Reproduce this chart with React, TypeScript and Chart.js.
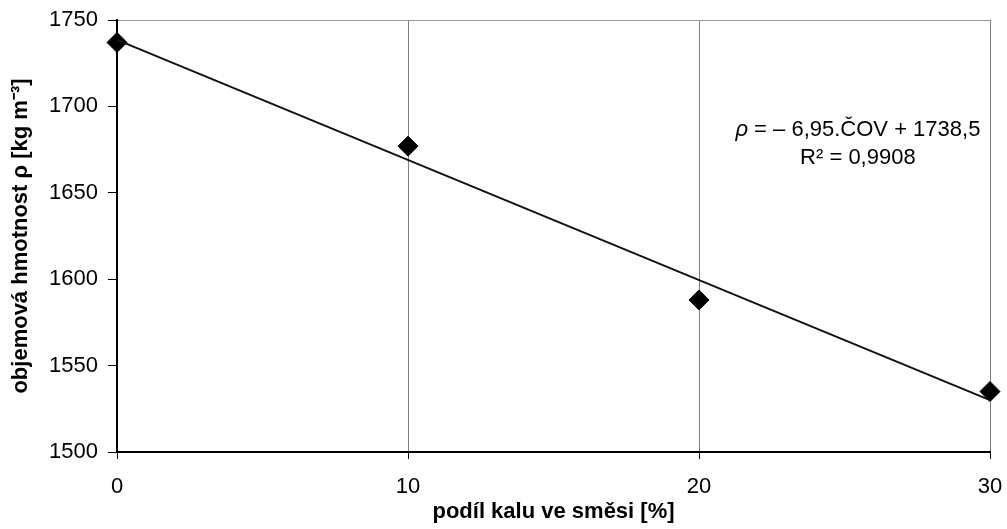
import React, { useEffect, useRef } from "react";
import { Chart, registerables } from "chart.js";

Chart.register(...registerables);

const xValues = [0, 10, 20, 30];
const densities = [1737, 1677, 1588, 1535];
const trendSlope = -6.95;
const trendIntercept = 1738.5;
const trendX = [0, 30];
const xTicks = [0, 10, 20, 30];
const yTicks = [1500, 1550, 1600, 1650, 1700, 1750];
const xTitle = "podíl kalu ve směsi [%]";
const yTitle = "objemová hmotnost ρ [kg m⁻³]";
const eqLine1Rest = " = – 6,95.ČOV + 1738,5";
const eqLine2 = "R² = 0,9908";

const FONT = "'Liberation Sans', Arial, sans-serif";

const equationPlugin = {
  id: "equation",
  afterDraw(chart: any) {
    const ctx = chart.ctx;
    const xs = chart.scales.x;
    const ys = chart.scales.y;
    const cx = xs.getPixelForValue(25.46);
    const y1 = ys.getPixelForValue(1686.3);
    const y2 = ys.getPixelForValue(1670.1);
    ctx.save();
    ctx.fillStyle = "#000";
    ctx.textBaseline = "middle";
    ctx.textAlign = "left";
    ctx.font = `italic 22px ${FONT}`;
    const wr = ctx.measureText("ρ").width;
    ctx.font = `22px ${FONT}`;
    const wrest = ctx.measureText(eqLine1Rest).width;
    const x0 = cx - (wr + wrest) / 2;
    ctx.font = `italic 22px ${FONT}`;
    ctx.fillText("ρ", x0, y1);
    ctx.font = `22px ${FONT}`;
    ctx.fillText(eqLine1Rest, x0 + wr, y1);
    ctx.textAlign = "center";
    ctx.fillText(eqLine2, cx, y2);
    ctx.restore();
  },
};

export default function App() {
  const ref = useRef<HTMLCanvasElement>(null);
  useEffect(() => {
    const chart = new Chart(ref.current!, {
      type: "scatter",
      data: {
        datasets: [
          {
            label: "trend",
            type: "line",
            data: trendX.map((x) => ({ x, y: trendIntercept + trendSlope * x })),
            borderColor: "#111",
            borderWidth: 2,
            pointRadius: 0,
            fill: false,
            clip: false,
          },
          {
            label: "data",
            data: xValues.map((x, i) => ({ x, y: densities[i] })),
            pointStyle: "rectRot",
            pointRadius: 10,
            backgroundColor: "#000",
            borderColor: "#000",
            borderWidth: 1,
            clip: false,
          },
        ],
      },
      options: {
        animation: false,
        responsive: false,
        layout: { padding: { top: 20, right: 17, left: 0, bottom: 0 } },
        plugins: { legend: { display: false }, tooltip: { enabled: false } },
        scales: {
          x: {
            type: "linear",
            min: 0,
            max: 30,
            afterBuildTicks: (s: any) => {
              s.ticks = xTicks.map((v) => ({ value: v }));
            },
            afterFit: (s: any) => {
              s.height = 77;
              s.paddingLeft = 0;
              s.paddingRight = 0;
            },
            ticks: {
              color: "#000",
              font: { family: FONT, size: 22 },
              padding: 15,
              maxRotation: 0,
              callback: (v: any) => String(v),
            },
            grid: {
              color: (c: any) => (c.tick && c.tick.value === 0 ? "rgba(0,0,0,0)" : "#808080"),
              lineWidth: 1,
              tickColor: "#000",
              tickLength: 7,
              drawTicks: true,
            },
            border: { display: true, color: "#000", width: 2 },
            title: {
              display: true,
              text: xTitle,
              color: "#000",
              font: { family: FONT, size: 22, weight: "bold" },
              padding: { top: 0, bottom: 4 },
            },
          },
          y: {
            type: "linear",
            min: 1500,
            max: 1750,
            afterBuildTicks: (s: any) => {
              s.ticks = yTicks.map((v) => ({ value: v }));
            },
            afterFit: (s: any) => {
              s.width = 117;
              s.paddingTop = 0;
              s.paddingBottom = 0;
            },
            ticks: {
              color: "#000",
              font: { family: FONT, size: 22 },
              padding: 10,
              callback: (v: any) => String(v),
            },
            grid: {
              color: (c: any) => (c.tick && c.tick.value === 1750 ? "#999" : "rgba(0,0,0,0)"),
              lineWidth: 1,
              tickColor: "#000",
              tickLength: 9,
              drawTicks: true,
            },
            border: { display: true, color: "#000", width: 2 },
            title: {
              display: true,
              text: yTitle,
              color: "#000",
              font: { family: FONT, size: 22, weight: "bold" },
              padding: { top: 8, bottom: 0 },
            },
          },
        },
      },
      plugins: [equationPlugin],
    } as any);
    return () => chart.destroy();
  }, []);
  return (
    <div style={{ position: "fixed", left: 0, top: 0, width: 1007, height: 529, background: "#fff" }}>
      <canvas ref={ref} width={1007} height={529} style={{ display: "block" }} />
    </div>
  );
}
